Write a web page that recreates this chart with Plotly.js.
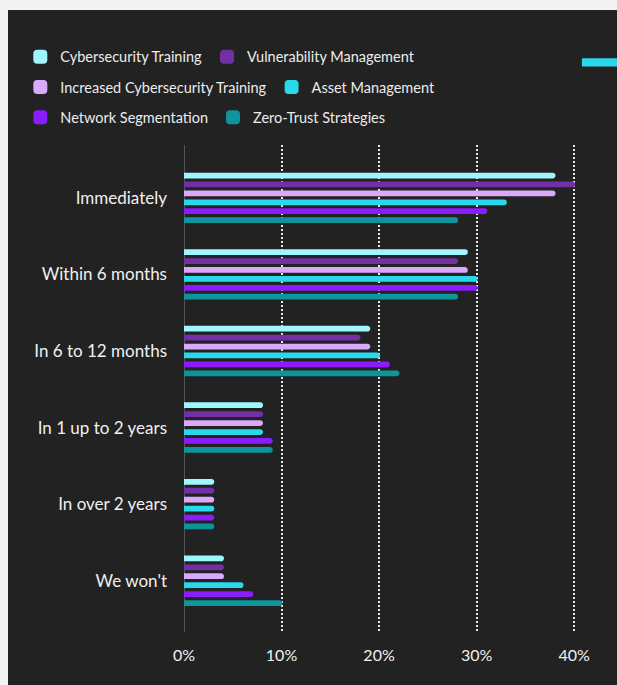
<!DOCTYPE html>
<html>
<head>
<meta charset="utf-8">
<script src="https://cdn.plot.ly/plotly-3.0.1.min.js"></script>
<style>
  html, body { margin: 0; padding: 0; background: #f3f3f3; }
  #chart { position: absolute; left: 8px; top: 10px; width: 609px; height: 675px; }
</style>
</head>
<body>
<div id="chart"></div>
<script>
// Categories (top to bottom)
const categories = ["Immediately", "Within 6 months", "In 6 to 12 months", "In 1 up to 2 years", "In over 2 years", "We won't"];

// Series names
const seriesNames = ["Cybersecurity Training", "Vulnerability Management", "Increased Cybersecurity Training",
                     "Asset Management", "Network Segmentation", "Zero-Trust Strategies"];

// Values (%)
const cybersecurityTraining          = [38, 29, 19, 8, 3, 4];
const vulnerabilityManagement        = [40, 28, 18, 8, 3, 4];
const increasedCybersecurityTraining = [38, 29, 19, 8, 3, 4];
const assetManagement                = [33, 30, 20, 8, 3, 6];
const networkSegmentation            = [31, 30, 21, 9, 3, 7];
const zeroTrustStrategies            = [28, 28, 22, 9, 3, 10];

// X tick values and labels
const xTickVals = [0, 10, 20, 30, 40];
const xTickText = ["0%", "10%", "20%", "30%", "40%"];

const seriesValues = [cybersecurityTraining, vulnerabilityManagement, increasedCybersecurityTraining,
                      assetManagement, networkSegmentation, zeroTrustStrategies];
const colors = ["#a0f6fd", "#7330a6", "#d9a9fb", "#2ad9e9", "#8a1cfd", "#10949c"];
const legendIds = ["legend", "legend", "legend2", "legend2", "legend3", "legend3"];

const FONT = "Lato, 'Open Sans', sans-serif";

const traces = seriesNames.map((name, i) => ({
  type: "bar",
  orientation: "h",
  name: name,
  x: seriesValues[i],
  y: categories,
  marker: { color: colors[i], cornerradius: 2, line: { color: colors[i], width: 2 } },
  legend: legendIds[i],
  hoverinfo: "x+name"
}));

function legendRow(y) {
  return {
    orientation: "h",
    x: -0.378, xanchor: "left",
    y: y, yanchor: "middle",
    bgcolor: "rgba(0,0,0,0)",
    font: { family: FONT, size: 14.5, color: "#ececec" },
    traceorder: "normal",
    itemclick: false, itemdoubleclick: false
  };
}

const layout = {
  width: 609,
  height: 675,
  paper_bgcolor: "#222222",
  plot_bgcolor: "rgba(0,0,0,0)",
  margin: { l: 176, r: 0, t: 135, b: 53 },
  barmode: "group",
  bargap: 0.3,
  bargroupgap: 0.58,
  showlegend: true,
  legend: legendRow(1.181),
  legend2: legendRow(1.119),
  legend3: legendRow(1.057),
  xaxis: {
    range: [0, 44.4],
    tickmode: "array",
    tickvals: xTickVals,
    ticktext: xTickText,
    showgrid: true,
    gridcolor: "#e8e8e8",
    gridwidth: 1.5,
    griddash: "2px,2px",
    zeroline: true,
    zerolinecolor: "#555555",
    zerolinewidth: 1,
    showline: false,
    ticks: "",
    ticklabelstandoff: 12,
    tickfont: { family: FONT, size: 16, color: "#f0f0f0" },
    fixedrange: true
  },
  yaxis: {
    type: "category",
    categoryorder: "array",
    categoryarray: categories,
    range: [5.67, -0.69],
    showgrid: false,
    zeroline: false,
    showline: false,
    ticks: "",
    ticklabelstandoff: 16,
    tickfont: { family: FONT, size: 17, color: "#f0f0f0" },
    fixedrange: true
  },
  shapes: [
    { type: "rect", xref: "paper", yref: "paper",
      x0: 0.919, x1: 1.02, y0: 1.161, y1: 1.178,
      fillcolor: "#2ad9e9", line: { width: 0 }, layer: "above" }
  ]
};

Plotly.newPlot("chart", traces, layout, { displayModeBar: false });
</script>
</body>
</html>
